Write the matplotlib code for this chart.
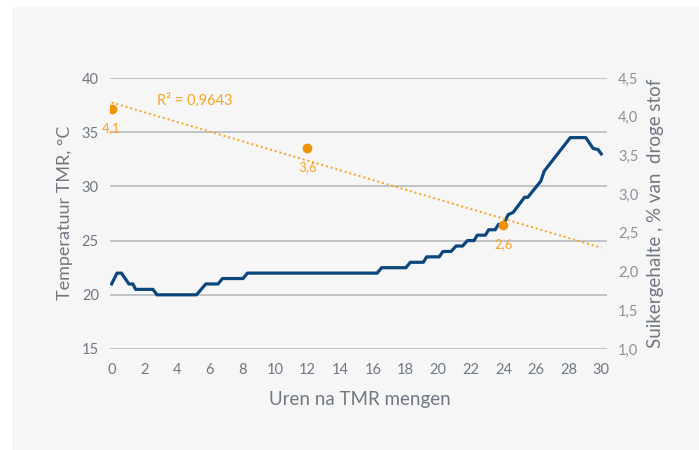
import matplotlib.pyplot as plt

plt.rcParams['font.family'] = ['Lato', 'DejaVu Sans']

# temperature trace (hours after mixing, degrees C)
hours = [0, 0.33, 0.6, 1.06, 1.3, 1.47, 2.53, 2.78, 5.2, 5.77, 6.52, 6.79, 8.05, 8.32,
         16.27, 16.54, 18.03, 18.3, 19.1, 19.3, 20.07, 20.3, 20.8, 21.1, 21.5, 21.8,
         22.2, 22.4, 22.9, 23.1, 23.5, 23.7, 24.0, 24.3, 24.6, 25.3, 25.5, 26.3, 26.5,
         28.1, 29.05, 29.5, 29.8, 30.0]
temp = [21.0, 22, 22, 21, 21, 20.5, 20.5, 20, 20, 21, 21, 21.5, 21.5, 22,
        22, 22.5, 22.5, 23, 23, 23.5, 23.5, 24, 24, 24.5, 24.5, 25,
        25, 25.5, 25.5, 26, 26, 26.5, 26.5, 27.4, 27.6, 29, 29, 30.5, 31.4,
        34.5, 34.5, 33.5, 33.4, 33.0]

# sugar content measurements
sugar_hours = [0, 12, 24]
sugar = [4.1, 3.6, 2.6]
sugar_labels = ['4,1', '3,6', '2,6']
r2_text = 'R² = 0,9643'

GREY = '#6f7882'
BLUE = '#0b467d'
ORANGE = '#f39200'

fig = plt.figure(figsize=(6.99, 4.5), dpi=100)
fig.patch.set_facecolor('white')
fig.patches.append(plt.Rectangle((12 / 699, 0), 1, 1 - 7 / 450, transform=fig.transFigure,
                                 facecolor='#f6f6f6', edgecolor='none', zorder=-10))

ax = fig.add_axes([110 / 699, 1 - 349 / 450, 497 / 699, 271 / 450])
ax.set_facecolor('none')
ax.set_xlim(-0.1, 30.35)
ax.set_ylim(15, 40)
ax.set_xticks(range(0, 31, 2))
ax.set_yticks(range(15, 41, 5))
ax.grid(axis='y', color='#b5babf', linewidth=1.2)
ax.set_axisbelow(True)
for s in ax.spines.values():
    s.set_visible(False)
ax.tick_params(length=0, colors=GREY, labelsize=10.5, pad=8)
ax.tick_params(axis='x', pad=10)

ax.plot(hours, temp, color=BLUE, linewidth=2.3, zorder=3)

ax2 = ax.twinx()
ax2.set_ylim(1.0, 4.5)
ax2.set_yticks([1.0, 1.5, 2.0, 2.5, 3.0, 3.5, 4.0, 4.5])
ax2.set_yticklabels(['1,0', '1,5', '2,0', '2,5', '3,0', '3,5', '4,0', '4,5'])
for s in ax2.spines.values():
    s.set_visible(False)
ax2.tick_params(length=0, colors='#8a9198', labelsize=10.5, pad=8)

ax2.scatter(sugar_hours, sugar, s=36, color=ORANGE, zorder=4)
for x, y, lab in zip(sugar_hours, sugar, sugar_labels):
    ax2.annotate(lab, (x, y), xytext=(0, -14), textcoords='offset points',
                 ha='center', va='center', color='#f5a623', fontsize=9.5)

# linear trend line through the sugar points
n = len(sugar_hours)
mx = sum(sugar_hours) / n
my = sum(sugar) / n
slope = sum((a - mx) * (b - my) for a, b in zip(sugar_hours, sugar)) / \
    sum((a - mx) ** 2 for a in sugar_hours)
icpt = my - slope * mx
ax2.plot([0, 30], [icpt, icpt + slope * 30], color='#f7a21b', linestyle=(0, (1, 1.5)),
         linewidth=1.4, zorder=3)
ax2.text(2.8, 4.215, r2_text, color='#f5a623', fontsize=10.5, va='center')

fig.text(360 / 699, 1 - 400 / 450, 'Uren na TMR mengen', color=GREY, fontsize=13.5,
         ha='center', va='center')
fig.text(65 / 699, 1 - 213 / 450, 'Temperatuur TMR, °C', color=GREY, fontsize=13,
         ha='center', va='center', rotation=90)
fig.text(656 / 699, 1 - 213 / 450, 'Suikergehalte , % van  droge stof', color=GREY,
         fontsize=13.5, ha='center', va='center', rotation=90)

fig.savefig('out.png', dpi=100)
